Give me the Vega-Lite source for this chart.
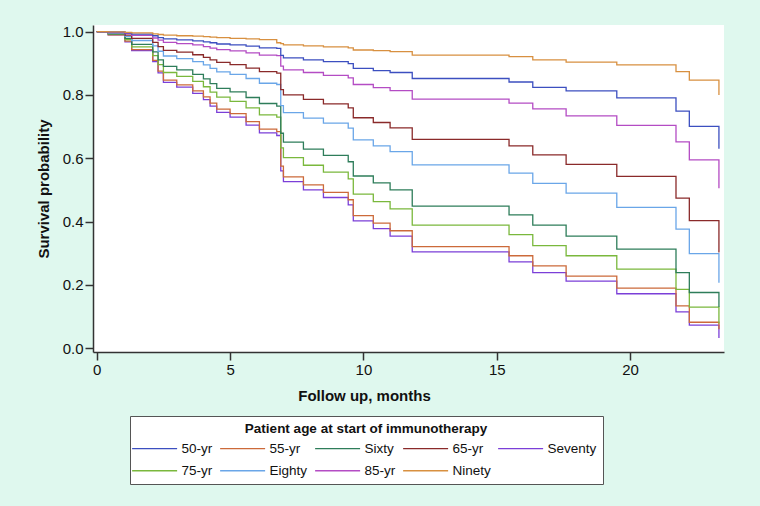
{
  "$schema": "https://vega.github.io/schema/vega-lite/v6.json",
  "width": 631,
  "height": 327,
  "autosize": "none",
  "padding": {"left": 93, "top": 25, "right": 36, "bottom": 154},
  "background": "#dff8ee",
  "view": {"fill": "white", "stroke": null},
  "config": {"font": "Liberation Sans"},
  "datasets": {
    "km": [
      {"g":"Seventy","t":0,"s":1},{"g":"Seventy","t":0.43,"s":0.99},{"g":"Seventy","t":1.06,"s":0.968},{"g":"Seventy","t":1.31,"s":0.94},{"g":"Seventy","t":2.1,"s":0.905},{"g":"Seventy","t":2.3,"s":0.87},{"g":"Seventy","t":2.5,"s":0.84},{"g":"Seventy","t":3.0,"s":0.825},{"g":"Seventy","t":3.6,"s":0.805},{"g":"Seventy","t":4.0,"s":0.785},{"g":"Seventy","t":4.25,"s":0.765},{"g":"Seventy","t":4.5,"s":0.745},{"g":"Seventy","t":5.0,"s":0.73},{"g":"Seventy","t":5.6,"s":0.705},{"g":"Seventy","t":6.1,"s":0.68},{"g":"Seventy","t":6.75,"s":0.672},{"g":"Seventy","t":6.9,"s":0.56},{"g":"Seventy","t":7.0,"s":0.526},{"g":"Seventy","t":7.75,"s":0.5},{"g":"Seventy","t":8.5,"s":0.476},{"g":"Seventy","t":9.43,"s":0.453},{"g":"Seventy","t":9.62,"s":0.402},{"g":"Seventy","t":10.37,"s":0.378},{"g":"Seventy","t":11.0,"s":0.354},{"g":"Seventy","t":11.83,"s":0.304},{"g":"Seventy","t":15.46,"s":0.273},{"g":"Seventy","t":16.35,"s":0.239},{"g":"Seventy","t":17.6,"s":0.212},{"g":"Seventy","t":19.5,"s":0.172},{"g":"Seventy","t":21.72,"s":0.115},{"g":"Seventy","t":22.22,"s":0.073},{"g":"Seventy","t":23.33,"s":0.032},
      {"g":"55-yr","t":0,"s":1},{"g":"55-yr","t":0.43,"s":0.99},{"g":"55-yr","t":1.06,"s":0.97},{"g":"55-yr","t":1.31,"s":0.943},{"g":"55-yr","t":2.1,"s":0.909},{"g":"55-yr","t":2.3,"s":0.875},{"g":"55-yr","t":2.5,"s":0.847},{"g":"55-yr","t":3.0,"s":0.832},{"g":"55-yr","t":3.6,"s":0.813},{"g":"55-yr","t":4.0,"s":0.794},{"g":"55-yr","t":4.25,"s":0.774},{"g":"55-yr","t":4.5,"s":0.755},{"g":"55-yr","t":5.0,"s":0.741},{"g":"55-yr","t":5.6,"s":0.716},{"g":"55-yr","t":6.1,"s":0.692},{"g":"55-yr","t":6.75,"s":0.684},{"g":"55-yr","t":6.9,"s":0.575},{"g":"55-yr","t":7.0,"s":0.541},{"g":"55-yr","t":7.75,"s":0.516},{"g":"55-yr","t":8.5,"s":0.492},{"g":"55-yr","t":9.43,"s":0.469},{"g":"55-yr","t":9.62,"s":0.419},{"g":"55-yr","t":10.37,"s":0.395},{"g":"55-yr","t":11.0,"s":0.371},{"g":"55-yr","t":11.83,"s":0.321},{"g":"55-yr","t":15.46,"s":0.292},{"g":"55-yr","t":16.35,"s":0.26},{"g":"55-yr","t":17.6,"s":0.228},{"g":"55-yr","t":19.5,"s":0.19},{"g":"55-yr","t":21.72,"s":0.134},{"g":"55-yr","t":22.22,"s":0.082},{"g":"55-yr","t":23.33,"s":0.06},
      {"g":"75-yr","t":0,"s":1},{"g":"75-yr","t":0.43,"s":0.992},{"g":"75-yr","t":1.06,"s":0.975},{"g":"75-yr","t":1.31,"s":0.952},{"g":"75-yr","t":2.1,"s":0.924},{"g":"75-yr","t":2.3,"s":0.896},{"g":"75-yr","t":2.5,"s":0.871},{"g":"75-yr","t":3.0,"s":0.859},{"g":"75-yr","t":3.6,"s":0.843},{"g":"75-yr","t":4.0,"s":0.826},{"g":"75-yr","t":4.25,"s":0.809},{"g":"75-yr","t":4.5,"s":0.793},{"g":"75-yr","t":5.0,"s":0.78},{"g":"75-yr","t":5.6,"s":0.759},{"g":"75-yr","t":6.1,"s":0.737},{"g":"75-yr","t":6.75,"s":0.73},{"g":"75-yr","t":6.9,"s":0.633},{"g":"75-yr","t":7.0,"s":0.602},{"g":"75-yr","t":7.75,"s":0.578},{"g":"75-yr","t":8.5,"s":0.556},{"g":"75-yr","t":9.43,"s":0.535},{"g":"75-yr","t":9.62,"s":0.487},{"g":"75-yr","t":10.37,"s":0.463},{"g":"75-yr","t":11.0,"s":0.44},{"g":"75-yr","t":11.83,"s":0.389},{"g":"75-yr","t":15.46,"s":0.359},{"g":"75-yr","t":16.35,"s":0.324},{"g":"75-yr","t":17.6,"s":0.292},{"g":"75-yr","t":19.5,"s":0.25},{"g":"75-yr","t":21.72,"s":0.186},{"g":"75-yr","t":22.22,"s":0.13},{"g":"75-yr","t":23.33,"s":0.078},
      {"g":"Sixty","t":0,"s":1},{"g":"Sixty","t":0.43,"s":0.993},{"g":"Sixty","t":1.06,"s":0.979},{"g":"Sixty","t":1.31,"s":0.96},{"g":"Sixty","t":2.1,"s":0.936},{"g":"Sixty","t":2.3,"s":0.911},{"g":"Sixty","t":2.5,"s":0.89},{"g":"Sixty","t":3.0,"s":0.879},{"g":"Sixty","t":3.6,"s":0.865},{"g":"Sixty","t":4.0,"s":0.851},{"g":"Sixty","t":4.25,"s":0.836},{"g":"Sixty","t":4.5,"s":0.821},{"g":"Sixty","t":5.0,"s":0.81},{"g":"Sixty","t":5.6,"s":0.792},{"g":"Sixty","t":6.1,"s":0.773},{"g":"Sixty","t":6.75,"s":0.765},{"g":"Sixty","t":6.9,"s":0.679},{"g":"Sixty","t":7.0,"s":0.651},{"g":"Sixty","t":7.75,"s":0.629},{"g":"Sixty","t":8.5,"s":0.609},{"g":"Sixty","t":9.43,"s":0.589},{"g":"Sixty","t":9.62,"s":0.544},{"g":"Sixty","t":10.37,"s":0.522},{"g":"Sixty","t":11.0,"s":0.5},{"g":"Sixty","t":11.83,"s":0.449},{"g":"Sixty","t":15.46,"s":0.421},{"g":"Sixty","t":16.35,"s":0.389},{"g":"Sixty","t":17.6,"s":0.354},{"g":"Sixty","t":19.5,"s":0.313},{"g":"Sixty","t":21.72,"s":0.239},{"g":"Sixty","t":22.22,"s":0.176},{"g":"Sixty","t":23.33,"s":0.13},
      {"g":"Eighty","t":0,"s":1},{"g":"Eighty","t":0.43,"s":0.995},{"g":"Eighty","t":1.06,"s":0.985},{"g":"Eighty","t":1.31,"s":0.972},{"g":"Eighty","t":2.1,"s":0.955},{"g":"Eighty","t":2.3,"s":0.938},{"g":"Eighty","t":2.5,"s":0.923},{"g":"Eighty","t":3.0,"s":0.915},{"g":"Eighty","t":3.6,"s":0.905},{"g":"Eighty","t":4.0,"s":0.895},{"g":"Eighty","t":4.25,"s":0.884},{"g":"Eighty","t":4.5,"s":0.873},{"g":"Eighty","t":5.0,"s":0.865},{"g":"Eighty","t":5.6,"s":0.852},{"g":"Eighty","t":6.1,"s":0.837},{"g":"Eighty","t":6.75,"s":0.833},{"g":"Eighty","t":6.9,"s":0.766},{"g":"Eighty","t":7.0,"s":0.744},{"g":"Eighty","t":7.75,"s":0.727},{"g":"Eighty","t":8.5,"s":0.711},{"g":"Eighty","t":9.43,"s":0.695},{"g":"Eighty","t":9.62,"s":0.658},{"g":"Eighty","t":10.37,"s":0.639},{"g":"Eighty","t":11.0,"s":0.621},{"g":"Eighty","t":11.83,"s":0.579},{"g":"Eighty","t":15.46,"s":0.553},{"g":"Eighty","t":16.35,"s":0.521},{"g":"Eighty","t":17.6,"s":0.49},{"g":"Eighty","t":19.5,"s":0.445},{"g":"Eighty","t":21.72,"s":0.376},{"g":"Eighty","t":22.22,"s":0.299},{"g":"Eighty","t":23.33,"s":0.207},
      {"g":"65-yr","t":0,"s":1},{"g":"65-yr","t":0.43,"s":0.997},{"g":"65-yr","t":1.06,"s":0.989},{"g":"65-yr","t":1.31,"s":0.979},{"g":"65-yr","t":2.1,"s":0.966},{"g":"65-yr","t":2.3,"s":0.953},{"g":"65-yr","t":2.5,"s":0.941},{"g":"65-yr","t":3.0,"s":0.935},{"g":"65-yr","t":3.6,"s":0.927},{"g":"65-yr","t":4.0,"s":0.919},{"g":"65-yr","t":4.25,"s":0.911},{"g":"65-yr","t":4.5,"s":0.903},{"g":"65-yr","t":5.0,"s":0.896},{"g":"65-yr","t":5.6,"s":0.885},{"g":"65-yr","t":6.1,"s":0.874},{"g":"65-yr","t":6.75,"s":0.869},{"g":"65-yr","t":6.9,"s":0.817},{"g":"65-yr","t":7.0,"s":0.8},{"g":"65-yr","t":7.75,"s":0.786},{"g":"65-yr","t":8.5,"s":0.772},{"g":"65-yr","t":9.43,"s":0.759},{"g":"65-yr","t":9.62,"s":0.728},{"g":"65-yr","t":10.37,"s":0.713},{"g":"65-yr","t":11.0,"s":0.696},{"g":"65-yr","t":11.83,"s":0.66},{"g":"65-yr","t":15.46,"s":0.639},{"g":"65-yr","t":16.35,"s":0.611},{"g":"65-yr","t":17.6,"s":0.581},{"g":"65-yr","t":19.5,"s":0.543},{"g":"65-yr","t":21.72,"s":0.474},{"g":"65-yr","t":22.22,"s":0.403},{"g":"65-yr","t":23.33,"s":0.302},
      {"g":"85-yr","t":0,"s":1},{"g":"85-yr","t":0.43,"s":0.998},{"g":"85-yr","t":1.06,"s":0.994},{"g":"85-yr","t":1.31,"s":0.988},{"g":"85-yr","t":2.1,"s":0.98},{"g":"85-yr","t":2.3,"s":0.973},{"g":"85-yr","t":2.5,"s":0.966},{"g":"85-yr","t":3.0,"s":0.962},{"g":"85-yr","t":3.6,"s":0.958},{"g":"85-yr","t":4.0,"s":0.953},{"g":"85-yr","t":4.25,"s":0.948},{"g":"85-yr","t":4.5,"s":0.943},{"g":"85-yr","t":5.0,"s":0.939},{"g":"85-yr","t":5.6,"s":0.933},{"g":"85-yr","t":6.1,"s":0.926},{"g":"85-yr","t":6.75,"s":0.924},{"g":"85-yr","t":6.9,"s":0.891},{"g":"85-yr","t":7.0,"s":0.879},{"g":"85-yr","t":7.75,"s":0.871},{"g":"85-yr","t":8.5,"s":0.862},{"g":"85-yr","t":9.43,"s":0.854},{"g":"85-yr","t":9.62,"s":0.833},{"g":"85-yr","t":10.37,"s":0.823},{"g":"85-yr","t":11.0,"s":0.814},{"g":"85-yr","t":11.83,"s":0.787},{"g":"85-yr","t":15.46,"s":0.774},{"g":"85-yr","t":16.35,"s":0.756},{"g":"85-yr","t":17.6,"s":0.734},{"g":"85-yr","t":19.5,"s":0.704},{"g":"85-yr","t":21.72,"s":0.652},{"g":"85-yr","t":22.22,"s":0.595},{"g":"85-yr","t":23.33,"s":0.505},
      {"g":"50-yr","t":0,"s":1},{"g":"50-yr","t":0.43,"s":0.999},{"g":"50-yr","t":1.06,"s":0.996},{"g":"50-yr","t":1.31,"s":0.992},{"g":"50-yr","t":2.1,"s":0.987},{"g":"50-yr","t":2.3,"s":0.981},{"g":"50-yr","t":2.5,"s":0.977},{"g":"50-yr","t":3.0,"s":0.974},{"g":"50-yr","t":3.6,"s":0.971},{"g":"50-yr","t":4.0,"s":0.968},{"g":"50-yr","t":4.25,"s":0.965},{"g":"50-yr","t":4.5,"s":0.961},{"g":"50-yr","t":5.0,"s":0.958},{"g":"50-yr","t":5.6,"s":0.954},{"g":"50-yr","t":6.1,"s":0.949},{"g":"50-yr","t":6.75,"s":0.947},{"g":"50-yr","t":6.9,"s":0.925},{"g":"50-yr","t":7.0,"s":0.917},{"g":"50-yr","t":7.75,"s":0.911},{"g":"50-yr","t":8.5,"s":0.905},{"g":"50-yr","t":9.43,"s":0.899},{"g":"50-yr","t":9.62,"s":0.884},{"g":"50-yr","t":10.37,"s":0.877},{"g":"50-yr","t":11.0,"s":0.871},{"g":"50-yr","t":11.83,"s":0.852},{"g":"50-yr","t":15.46,"s":0.841},{"g":"50-yr","t":16.35,"s":0.824},{"g":"50-yr","t":17.6,"s":0.813},{"g":"50-yr","t":19.5,"s":0.791},{"g":"50-yr","t":21.72,"s":0.749},{"g":"50-yr","t":22.22,"s":0.701},{"g":"50-yr","t":23.33,"s":0.63},
      {"g":"Ninety","t":0,"s":1},{"g":"Ninety","t":0.43,"s":0.999},{"g":"Ninety","t":1.06,"s":0.998},{"g":"Ninety","t":1.31,"s":0.996},{"g":"Ninety","t":2.1,"s":0.993},{"g":"Ninety","t":2.3,"s":0.991},{"g":"Ninety","t":2.5,"s":0.989},{"g":"Ninety","t":3.0,"s":0.987},{"g":"Ninety","t":3.6,"s":0.986},{"g":"Ninety","t":4.0,"s":0.984},{"g":"Ninety","t":4.25,"s":0.983},{"g":"Ninety","t":4.5,"s":0.981},{"g":"Ninety","t":5.0,"s":0.979},{"g":"Ninety","t":5.6,"s":0.977},{"g":"Ninety","t":6.1,"s":0.975},{"g":"Ninety","t":6.75,"s":0.965},{"g":"Ninety","t":6.9,"s":0.962},{"g":"Ninety","t":7.0,"s":0.958},{"g":"Ninety","t":7.75,"s":0.955},{"g":"Ninety","t":8.5,"s":0.952},{"g":"Ninety","t":9.43,"s":0.949},{"g":"Ninety","t":9.62,"s":0.942},{"g":"Ninety","t":10.37,"s":0.94},{"g":"Ninety","t":11.0,"s":0.937},{"g":"Ninety","t":11.83,"s":0.926},{"g":"Ninety","t":15.46,"s":0.921},{"g":"Ninety","t":16.35,"s":0.911},{"g":"Ninety","t":17.6,"s":0.904},{"g":"Ninety","t":19.5,"s":0.895},{"g":"Ninety","t":21.72,"s":0.874},{"g":"Ninety","t":22.22,"s":0.847},{"g":"Ninety","t":23.33,"s":0.8}
    ]
  },
  "data": {"name": "km"},
  "mark": {"type": "line", "interpolate": "step-after", "strokeWidth": 1.3},
  "encoding": {
    "x": {
      "field": "t", "type": "quantitative",
      "scale": {"domain": [-0.14, 23.52], "nice": false, "zero": false},
      "axis": {
        "values": [0, 5, 10, 15, 20], "format": "d", "grid": false,
        "tickSize": 8, "tickWidth": 1.5, "tickColor": "#333",
        "domainColor": "#333", "domainWidth": 1.5,
        "labelFontSize": 15, "labelColor": "#111", "labelPadding": 2,
        "title": "Follow up, months", "titleFontSize": 15, "titleFontWeight": "bold", "titleColor": "#111",
        "titleX": 271, "titleY": 43, "titleAlign": "center", "titleBaseline": "middle"
      }
    },
    "y": {
      "field": "s", "type": "quantitative",
      "scale": {"domain": [-0.012, 1.021], "nice": false, "zero": false},
      "axis": {
        "values": [0, 0.2, 0.4, 0.6, 0.8, 1.0], "format": ".1f", "grid": false,
        "tickSize": 8, "tickWidth": 1.5, "tickColor": "#333",
        "domainColor": "#333", "domainWidth": 1.5,
        "labelFontSize": 15, "labelColor": "#111", "labelPadding": 2,
        "title": "Survival probability", "titleFontSize": 15, "titleFontWeight": "bold", "titleColor": "#111",
        "titleX": -50, "titleY": 163.5, "titleAngle": -90, "titleAlign": "center", "titleBaseline": "middle"
      }
    },
    "color": {
      "field": "g", "type": "nominal",
      "scale": {
        "domain": ["50-yr", "55-yr", "Sixty", "65-yr", "Seventy", "75-yr", "Eighty", "85-yr", "Ninety"],
        "range": ["#3c4fc0", "#cc6a3a", "#2e7d5a", "#8a2a2a", "#7b3fd8", "#7ab83c", "#6aa6e8", "#b44cc4", "#d89040"]
      },
      "legend": {
        "title": "Patient age at start of immunotherapy",
        "orient": "none", "legendX": 37, "legendY": 391,
        "direction": "horizontal", "columns": 5, "gridAlign": "each",
        "symbolType": "M-1.89,0H6.11", "symbolSize": 126.5625, "symbolStrokeWidth": 1.3,
        "symbolFillColor": "transparent",
        "labelFontSize": 13.5, "labelColor": "#111", "labelOffset": 32,
        "columnPadding": 4, "rowPadding": 7.5, "padding": 6,
        "titleFontSize": 13.5, "titleFontWeight": "bold", "titleColor": "#111",
        "titleAnchor": "middle", "titlePadding": 6, "titleLimit": 400,
        "strokeColor": "#555", "fillColor": "white"
      }
    }
  }
}
